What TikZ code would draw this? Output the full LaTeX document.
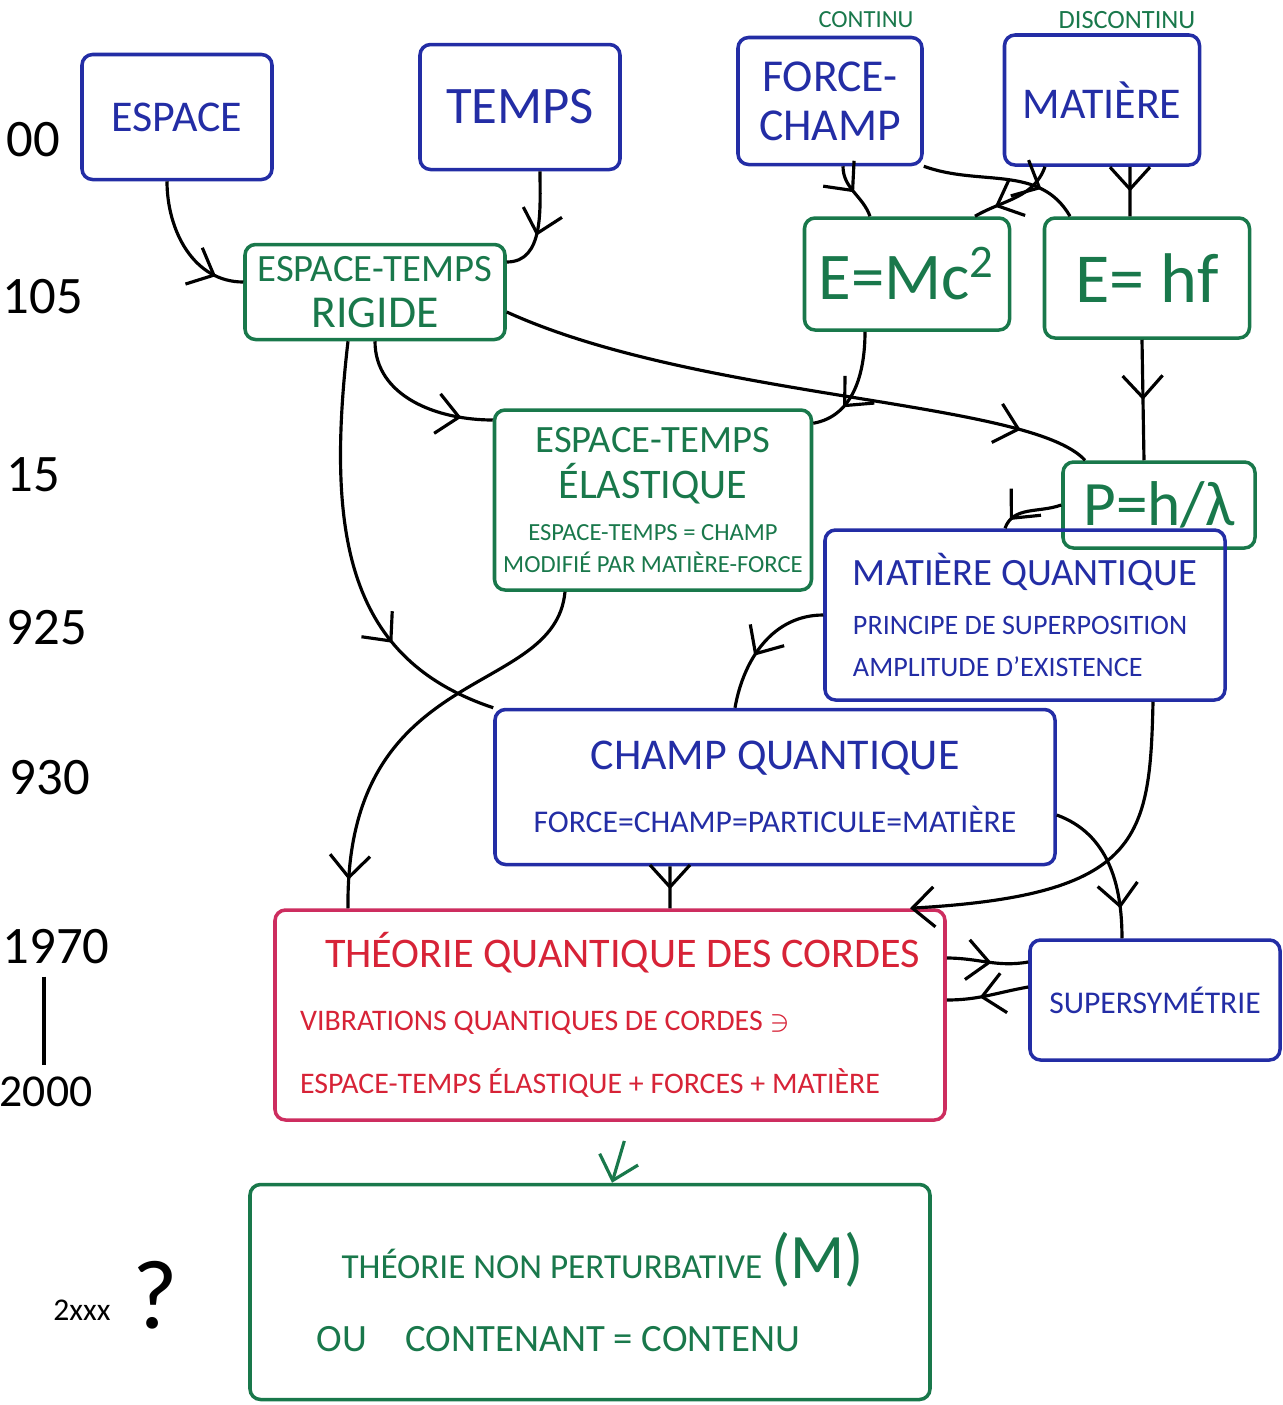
\documentclass[tikz,border=0pt]{standalone}
\usepackage{fontspec}
\setmainfont{Carlito}
\usepackage{amssymb}
\usetikzlibrary{arrows.meta, decorations.markings, positioning}

\definecolor{penblue}{RGB}{35,45,165}
\definecolor{pengreen}{RGB}{25,120,75}
\definecolor{penred}{RGB}{215,35,55}
\definecolor{penrose}{RGB}{205,45,95}

\newcommand{\penfs}[2]{\fontsize{#1}{#2}\selectfont}

\tikzset{
  box/.style={draw, line width=1pt, rounded corners=3pt, align=center, inner sep=2pt},
  bluebox/.style={box, draw=penblue, text=penblue},
  greenbox/.style={box, draw=pengreen, text=pengreen},
  redbox/.style={box, draw=penrose, text=penred},
  year/.style={font=\penfs{15}{17}},
  tip/.style={-{Straight Barb[length=2.2mm, width=4mm]}},
  link/.style={line width=0.9pt, postaction={decorate},
    decoration={markings, mark=at position #1 with {\arrow{Straight Barb[length=2.2mm, width=4mm]}}}},
  link/.default=0.8,
}

\begin{document}
\begin{tikzpicture}
\useasboundingbox (0,0) rectangle (12.83,-14.05);

% years
\node[year] (y1900) at (0.33,-1.40) {00};
\node[year] (y1905) at (0.43,-2.97) {105};
\node[year] (y1915) at (0.33,-4.75) {15};
\node[year] (y1925) at (0.47,-6.28) {925};
\node[year] (y1930) at (0.50,-7.78) {930};
\node[year] (y1970) at (0.56,-9.47) {1970};
\node[year, font=\penfs{13}{15}] (y2000) at (0.46,-10.92) {2000};
\node[font=\penfs{9}{11}] (y2xxx) at (0.82,-13.10) {2xxx};
\node[font=\penfs{28}{30}] (qmark) at (1.55,-12.95) {?};

% boxes
\node[bluebox, minimum width=1.9cm, minimum height=1.25cm, font=\penfs{12.5}{15}] (espace) at (1.77,-1.17) {ESPACE};
\node[bluebox, minimum width=2.0cm, minimum height=1.25cm, font=\penfs{15}{18}] (temps) at (5.20,-1.07) {TEMPS};
\node[bluebox, minimum width=1.84cm, minimum height=1.27cm, font=\penfs{13}{14}] (force) at (8.30,-1.01) {FORCE-\\CHAMP};
\node[bluebox, minimum width=1.95cm, minimum height=1.30cm, font=\penfs{12.5}{15}] (matiere) at (11.02,-1.00) {MATIÈRE};
\node[text=pengreen, font=\penfs{7}{8}] (continu) at (8.66,-0.20) {CONTINU};
\node[text=pengreen, font=\penfs{7.5}{8}] (discontinu) at (11.27,-0.20) {DISCONTINU};

\node[greenbox, minimum width=2.6cm, minimum height=0.95cm, font=\penfs{11}{13}] (rigide) at (3.75,-2.92) {ESPACE-TEMPS\\{\penfs{13}{15}RIGIDE}};
\node[greenbox, minimum width=2.05cm, minimum height=1.12cm, font=\penfs{19}{22}] (emc) at (9.07,-2.74) {E=Mc\textsuperscript{2}};
\node[greenbox, minimum width=2.05cm, minimum height=1.20cm, font=\penfs{20}{23}] (ehf) at (11.47,-2.78) {E= hf};
\node[greenbox, minimum width=3.17cm, minimum height=1.80cm, font=\penfs{7}{9}] (elastique) at (6.53,-5.00)
  {{\penfs{11}{13}ESPACE-TEMPS}\\[2pt]{\penfs{12}{14}ÉLASTIQUE}\\[3pt]ESPACE-TEMPS = CHAMP\\MODIFIÉ PAR MATIÈRE-FORCE};
\node[greenbox, minimum width=1.92cm, minimum height=0.86cm, font=\penfs{18}{21}] (plambda) at (11.59,-5.05) {P=h/λ};

\node[bluebox, minimum width=4.0cm, minimum height=1.70cm, align=left, font=\penfs{8}{12}] (matq) at (10.25,-6.15)
  {{\penfs{11}{13}MATIÈRE QUANTIQUE}\\[2pt]PRINCIPE DE SUPERPOSITION\\AMPLITUDE D’EXISTENCE};
\node[bluebox, minimum width=5.6cm, minimum height=1.55cm, font=\penfs{9}{12}] (champq) at (7.75,-7.87)
  {{\penfs{12.5}{15}CHAMP QUANTIQUE}\\[6pt]FORCE=CHAMP=PARTICULE=MATIÈRE};
\node[redbox, minimum width=6.7cm, minimum height=2.10cm, align=left, font=\penfs{8.5}{12}] (cordes) at (6.10,-10.15)
  {\hspace*{2.5mm}{\penfs{12}{14}THÉORIE QUANTIQUE DES CORDES}\\[6pt]VIBRATIONS QUANTIQUES DE CORDES $\ni$\\[6pt]ESPACE-TEMPS ÉLASTIQUE + FORCES + MATIÈRE};
\node[bluebox, minimum width=2.5cm, minimum height=1.20cm, font=\penfs{9}{11}] (susy) at (11.55,-10.00) {SUPERSYMÉTRIE};
\node[greenbox, minimum width=6.8cm, minimum height=2.15cm, align=left, font=\penfs{11}{13}] (mtheory) at (5.90,-12.92)
  {\hspace*{2.5mm}{\penfs{10}{12}THÉORIE NON PERTURBATIVE} {\penfs{18}{20}(M)}\\[8pt]OU\quad CONTENANT = CONTENU};

% connectors
\draw[line width=0.9pt] ([xshift=-1.2mm]y1970.south) -- ([xshift=-1.2mm]y1970.south |- y2000.north);

\draw[link=0.8] ([xshift=-1mm]espace.south) to[out=-90, in=180] ([yshift=1mm]rigide.west);
\draw[link=0.6] ([xshift=2mm]temps.south) to[out=-90, in=0] ([yshift=3mm]rigide.east);
\draw[link=0.5] ([xshift=1.3mm]force.south) to[out=-90, in=110] ([xshift=-3.7mm]emc.north);
\draw[link=0.75] (force.south east) to[out=-20, in=120] ([xshift=-7.7mm]ehf.north);
\draw[link=0.75] ([xshift=-5.7mm]matiere.south) to[out=-110, in=30] ([xshift=6.8mm]emc.north);
\draw[link=0.5] ([xshift=2.8mm]matiere.south) -- ([xshift=-1.7mm]ehf.north);
\draw[link=0.7] ([xshift=-4.2mm]emc.south) to[out=-90, in=10] ([yshift=-1.5mm]elastique.north east);
\draw[link=0.88] ([yshift=-2mm]rigide.east) .. controls (7.0,-4.0) and (10.3,-4.0) .. ([xshift=-7.4mm]plambda.north);
\draw[link=0.5] ([xshift=-0.5mm]ehf.south) -- ([xshift=-1.5mm]plambda.north);
\draw[link=0.85] (plambda.west) to[out=200, in=70] ([xshift=-2mm]matq.north);

\draw[link=0.8] (rigide.south) to[out=-90, in=180] ([yshift=8mm]elastique.west);
\draw[link=0.72] ([xshift=-2.7mm]rigide.south) .. controls (3.25,-5.4) and (3.5,-6.6) .. (champq.north west);
\draw[link=0.93] ([xshift=-8.8mm]elastique.south) .. controls (5.55,-7.0) and (3.45,-6.6) .. ([xshift=-26.2mm]cordes.north);
\draw[link=0.6] (matq.west) to[out=180, in=80] ([xshift=-4mm]champq.north);
\draw[line width=0.9pt, tip] ([xshift=12.8mm]matq.south) .. controls (11.5,-8.4) and (11.4,-8.95) .. ([xshift=3cm]cordes.north);
\draw[link=0.8] ([yshift=-2.8mm]champq.east) to[out=-20, in=90] ([xshift=-3.3mm]susy.north);
\draw[link=0.55] ([xshift=-1.05cm]champq.south) -- ([xshift=0.6cm]cordes.north);
\draw[link=0.55] ([yshift=5.7mm]cordes.east) to[out=0, in=190] ([yshift=3.8mm]susy.west);
\draw[link=0.6] ([yshift=1.3mm]susy.west) to[out=190, in=0] ([yshift=1.5mm]cordes.east);
\draw[line width=0.9pt, tip, pengreen, shorten <=2mm] ([xshift=0.2cm]cordes.south) -- ([xshift=2.2mm]mtheory.north);
\end{tikzpicture}
\end{document}
